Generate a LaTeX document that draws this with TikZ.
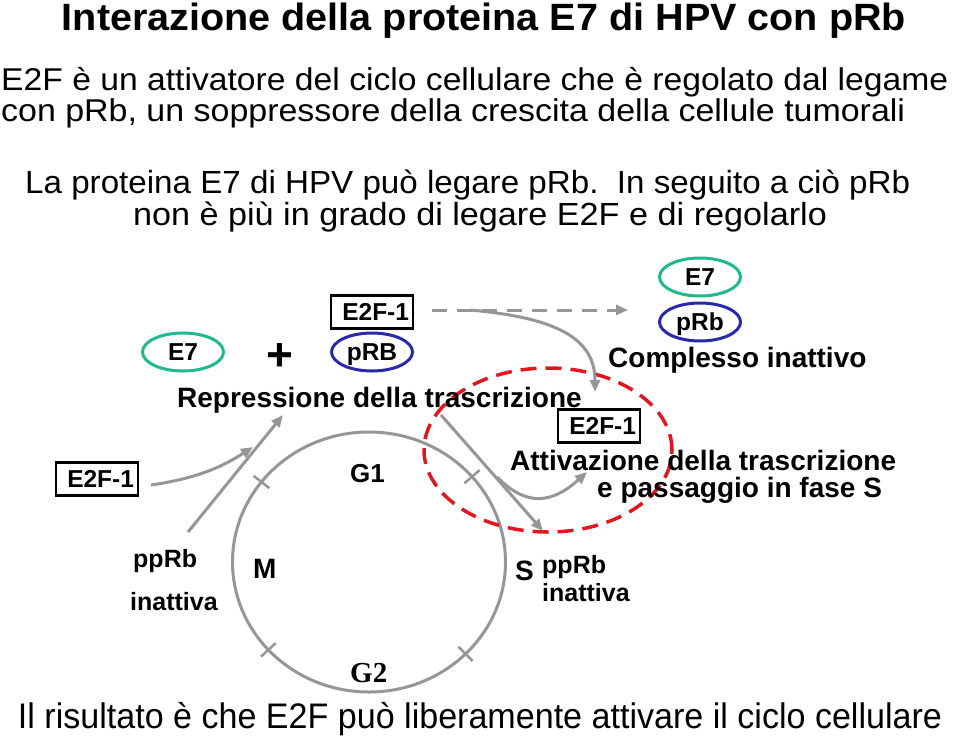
\documentclass[tikz,border=0pt]{standalone}
\usepackage{fontspec}
\usepackage{graphicx}
\setmainfont{Liberation Sans}
\newfontfamily\serifbf{Liberation Serif}
\usetikzlibrary{arrows.meta,shapes.geometric}
\definecolor{tealE}{RGB}{32,184,140}
\definecolor{blueR}{RGB}{42,42,168}
\definecolor{grayC}{RGB}{150,150,150}
\definecolor{redD}{RGB}{225,22,30}
\begin{document}
\begin{tikzpicture}[x=1pt,y=-1pt,
  txt/.style={inner sep=0pt,anchor=base},
  lbl/.style={inner sep=0pt,anchor=base west,font=\fontsize{28}{32}\selectfont\bfseries},
  small/.style={inner sep=0pt,anchor=base west,font=\fontsize{25}{29}\selectfont\bfseries},
  ovalE/.style={ellipse,draw=tealE,line width=3pt,minimum width=81pt,minimum height=38pt,inner sep=0pt,
    font=\fontsize{24.5}{28}\selectfont\bfseries,text depth=0pt},
  ovalR/.style={ovalE,draw=blueR},
  ebox/.style={draw=black,line width=2.5pt,minimum height=33pt,text width=74pt,align=right,
    inner xsep=4pt,inner ysep=0pt,font=\fontsize{24.5}{28}\selectfont\bfseries,text depth=0pt},
  garrow/.style={draw=grayC,line width=3pt,-{Triangle[length=12pt,width=10pt]}},
  tickm/.style={draw=grayC,line width=2.5pt},
]
\useasboundingbox (0,0) rectangle (960,736);
\fill[white] (0,0) rectangle (960,736);

% headings
\node[txt] (title) at (484,30) {\resizebox{844pt}{\height}{\fontsize{38}{44}\selectfont\bfseries Interazione della proteina E7 di HPV con pRb}};
\node[txt,anchor=base west] (l1) at (1,90) {\resizebox{947pt}{\height}{\fontsize{31.5}{36}\selectfont E2F è un attivatore del ciclo cellulare che è regolato dal legame}};
\node[txt,anchor=base west] (l2) at (1,121) {\resizebox{904pt}{\height}{\fontsize{31.5}{36}\selectfont con pRb, un soppressore della crescita della cellule tumorali}};
\node[txt,anchor=base west] (l3) at (25,193) {\resizebox{885pt}{\height}{\fontsize{32}{38}\selectfont La proteina E7 di HPV può legare pRb.\ \ In seguito a ciò pRb}};
\node[txt] (l4) at (480,225) {\resizebox{694pt}{\height}{\fontsize{32}{38}\selectfont non è più in grado di legare E2F e di regolarlo}};
\node[txt] (bottom) at (480,728) {\resizebox{924pt}{\height}{\fontsize{35.5}{40}\selectfont Il risultato è che E2F può liberamente attivare il ciclo cellulare}};

% cell cycle
\coordinate (cyc) at (369,562);
\draw[draw=grayC,line width=3pt] (cyc) ellipse [x radius=136.5pt,y radius=130pt];
\foreach \a in {-142,-41,45,137.5}
  \draw[tickm] ([shift={(\a:126.5 and 120)}]cyc) -- ([shift={(\a:146.5 and 140)}]cyc);

% red dashed region
\coordinate (act) at (548,450);
\draw[draw=redD,line width=3.5pt,dash pattern=on 16pt off 9pt] (act) ellipse [x radius=124pt,y radius=82pt];

% molecules
\node[ovalE] (e7a) at (183,352) {E7};
\node[inner sep=0pt,font=\fontsize{46}{50}\selectfont\bfseries] (plus) at (280,357) {+};
\node[ovalR] (prbA) at (372,352) {pRB};
\node[ebox] (e2fA) at (372,312) {E2F-1};
\node[ovalE] (e7b) at (700,277) {E7};
\node[ovalR] (prbB) at (700,322) {pRb};
\node[ebox] (e2fB) at (599,426) {E2F-1};
\node[ebox] (e2fC) at (97,479) {E2F-1};

% labels
\node[lbl,font=\fontsize{28}{32}\selectfont\bfseries] (rep) at (177,407) {Repressione della trascrizione};
\node[lbl] (compl) at (608,367) {Complesso inattivo};
\node[lbl] (att1) at (510,470) {Attivazione della trascrizione};
\node[lbl] (att2) at (597,497) {e passaggio in fase S};
\node[small] (pp1) at (133,567) {ppRb};
\node[small] (in1) at (130,610) {inattiva};
\node[small] (pp2) at (542,573) {ppRb};
\node[small] (in2) at (542,601) {inattiva};
\node[lbl] (mM) at (253,578) {M};
\node[lbl,font=\fontsize{26}{30}\selectfont\bfseries] (g1) at (350,482) {G1};
\node[lbl] (sS) at (515,580) {S};
\node[inner sep=0pt,anchor=base west,font=\fontsize{29}{32}\serifbf\bfseries] (g2) at (350,682) {G2};

% connector end points
\coordinate (a1s) at (151,485);
\coordinate (a1e) at (253,447);
\coordinate (a2s) at (188,532);
\coordinate (a2e) at (283,415);
\coordinate (a3s) at (432,310);
\coordinate (a3e) at (628,310);
\coordinate (a4s) at (470,310);
\coordinate (a4e) at (595,392);
\coordinate (a5s) at (441,415);
\coordinate (a5e) at (543,531);
\coordinate (a6s) at (497,477);
\coordinate (a6e) at (587,472);

\draw[garrow] (a1s) .. controls (200,478) and (225,465) .. (a1e);
\draw[garrow] (a2s) -- (a2e);
\draw[garrow,dash pattern=on 15pt off 10pt] (a3s) -- (a3e);
\draw[garrow] (a4s) .. controls (560,318) and (595,340) .. (a4e);
\draw[garrow] (a5s) -- (a5e);
\draw[garrow] (a6s) .. controls (520,500) and (545,510) .. (a6e);
\end{tikzpicture}
\end{document}
